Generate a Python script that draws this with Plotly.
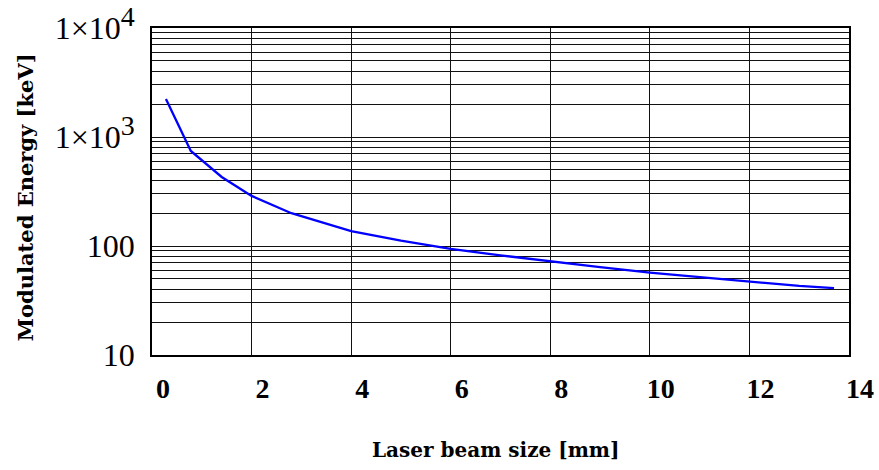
import plotly.graph_objects as go

# laser beam size [mm] and modulated energy [keV]
beam_size = [0.28, 0.78, 1.4, 2.0, 2.8, 4.0, 5.0, 6.0, 7.0, 8.0, 9.0, 10.0, 11.0, 12.0, 13.0, 13.7]
energy = [2230, 745, 430, 288, 200, 137, 112, 94, 82, 72, 64, 57, 52, 47, 43, 41]

x_ticks = [0, 2, 4, 6, 8, 10, 12, 14]
y_ticks = [10, 100, 1000, 10000]
sup = "<sup><span style='font-size:28px'>%s</span></sup>"
y_labels = ["10", "100", "1×10" + sup % "3", "1×10" + sup % "4"]

serif = "Liberation Serif"
title_font = "DejaVu Serif"

fig = go.Figure(
    go.Scatter(
        x=beam_size,
        y=energy,
        mode="lines",
        line=dict(color="#0000ff", width=2.3),
        showlegend=False,
    )
)

fig.update_xaxes(
    range=[0, 14],
    tickvals=x_ticks,
    ticks="",
    ticklabelshift=11,
    ticklabelstandoff=8,
    ticklabeloverflow="allow",
    tickfont=dict(family=serif, size=28, color="black", weight="bold"),
    showgrid=True,
    gridcolor="#111111",
    gridwidth=1.2,
    showline=True,
    linecolor="black",
    linewidth=1.5,
    mirror=True,
    zeroline=False,
    automargin=False,
)

fig.update_yaxes(
    type="log",
    range=[1, 4],
    tickvals=y_ticks,
    ticktext=y_labels,
    ticks="",
    ticklabelstandoff=9,
    ticklabeloverflow="allow",
    tickfont=dict(family=serif, size=32, color="black"),
    showgrid=True,
    gridcolor="#111111",
    gridwidth=1.2,
    minor=dict(dtick="D1", showgrid=True, gridcolor="#111111", gridwidth=1.2),
    showline=True,
    linecolor="black",
    linewidth=1.5,
    mirror=True,
    automargin=False,
)

fig.add_annotation(
    text="Laser beam size [mm]",
    xref="paper",
    yref="paper",
    x=0.493,
    y=-0.29,
    xanchor="center",
    yanchor="middle",
    showarrow=False,
    font=dict(family=title_font, size=20, color="black", weight="bold"),
)

fig.add_annotation(
    text="Modulated Energy [keV]",
    xref="paper",
    yref="paper",
    x=-0.182,
    y=0.483,
    textangle=-90,
    xanchor="center",
    yanchor="middle",
    showarrow=False,
    font=dict(family=title_font, size=21, color="black", weight="bold"),
)

fig.update_layout(
    width=879,
    height=470,
    paper_bgcolor="white",
    plot_bgcolor="white",
    margin=dict(l=152, r=30, t=28, b=115),
)

# drop the default 8px body margin so the figure fills the window
fig.write_html(
    "out.html",
    config={"displayModeBar": False},
    post_script="document.body.style.margin = '0px';",
)
